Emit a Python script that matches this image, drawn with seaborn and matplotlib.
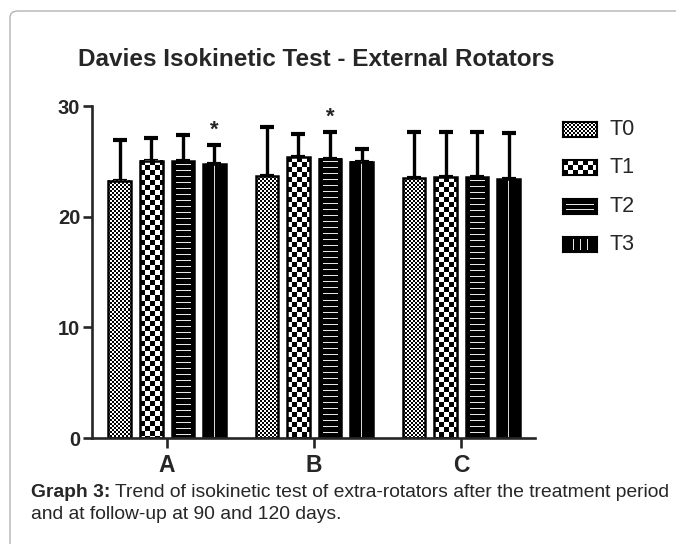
import numpy as np
import pandas as pd
import matplotlib
matplotlib.use("Agg")
import matplotlib.pyplot as plt
import seaborn as sns
from matplotlib.patches import FancyBboxPatch

# === DATA ===
groups = ["A", "B", "C"]
times = ["T0", "T1", "T2", "T3"]
t0_mean = [23.25, 23.67, 23.46]
t1_mean = [25.05, 25.36, 23.55]
t2_mean = [25.00, 25.23, 23.55]
t3_mean = [24.75, 24.96, 23.37]
t0_sd = [3.65, 4.40, 4.21]
t1_sd = [2.02, 2.14, 4.12]
t2_sd = [2.37, 2.44, 4.12]
t3_sd = [1.72, 1.12, 4.23]
y_ticks = [0, 10, 20, 30]
stars = [("A", "T3"), ("B", "T2")]

title = "Davies Isokinetic Test - External Rotators"
caption_bold = "Graph 3:"
caption_1 = " Trend of isokinetic test of extra-rotators after the treatment period"
caption_2 = "and at follow-up at 90 and 120 days."

means = [t0_mean, t1_mean, t2_mean, t3_mean]
sds = [t0_sd, t1_sd, t2_sd, t3_sd]
df = pd.DataFrame({
    "group": [g for _ in times for g in groups],
    "time": [t for t in times for _ in groups],
    "value": [v for m in means for v in m],
})

W, H = 676, 544
FONT = ["Liberation Sans", "DejaVu Sans"]

sns.set_theme(style="ticks")
plt.rcParams["font.family"] = FONT


def texture(kind, w, h, legend=False):
    # 1 = white, 0 = black, drawn at one array cell per output pixel
    i, j = np.mgrid[0:h, 0:w]
    if kind == "T0":
        return ((i // 2 + j // 2) % 2).astype(float)
    if kind == "T1":
        return ((i // 5 + j // 5) % 2).astype(float)
    img = np.zeros((h, w))
    if kind == "T2":
        if legend:
            for r in (h // 3, 2 * h // 3):
                img[r, 3:w - 3] = 0.9
        else:
            img[(i % 6 == 3) & (j >= 4) & (j < w - 4)] = 0.9
    else:
        if legend:
            for c in (w // 2 - 7, w // 2, w // 2 + 7):
                img[2:h - 2, c] = 0.9
        else:
            img[:, w // 2] = 0.85
    return img


fig = plt.figure(figsize=(W / 100, H / 100), dpi=100)
ax = fig.add_axes([92 / W, 1 - 438 / H, (535 - 92) / W, (438 - 106) / H])

sns.barplot(data=df, x="group", y="value", hue="time", order=groups,
            hue_order=times, width=0.857, gap=0.285, errorbar=None,
            legend=False, ax=ax)
ax.set_xlim(-0.51, 2.5)
ax.set_ylim(0, 30)
fig.canvas.draw()

# textured bars + upper error bars
bar_conts = list(ax.containers)
for k, cont in enumerate(bar_conts):
    xs, tops = [], []
    for rect in cont.patches:
        x0, w_d, h_d = rect.get_x(), rect.get_width(), rect.get_height()
        bb = rect.get_window_extent()
        img = texture(times[k], max(int(round(bb.width)), 1), max(int(round(bb.height)), 1))
        ax.imshow(img, cmap="gray", vmin=0, vmax=1, extent=[x0, x0 + w_d, 0, h_d],
                  aspect="auto", interpolation="nearest", zorder=1.5)
        rect.set_facecolor("none")
        rect.set_edgecolor("black")
        rect.set_linewidth(1.8)
        rect.set_zorder(2)
        xs.append(x0 + w_d / 2)
        tops.append(h_d)
    ax.errorbar(xs, tops, yerr=[np.zeros(len(xs)), sds[k]], fmt="none",
                ecolor="black", elinewidth=2.4, capsize=5, capthick=3, zorder=1.4)
    for g, t in stars:
        if t == times[k]:
            gi = groups.index(g)
            ax.text(xs[gi], tops[gi] + sds[k][gi] + 0.8, "*", ha="center", va="baseline",
                    fontsize=16, fontweight="bold")

ax.set_xlim(-0.51, 2.5)
ax.set_ylim(0, 30)
ax.set_yticks(y_ticks)
ax.set_xlabel("")
ax.set_ylabel("")
sns.despine(ax=ax)
for s in ("left", "bottom"):
    ax.spines[s].set_linewidth(1.9)
ax.tick_params(axis="y", length=6.5, width=1.9, pad=2, labelsize=14.5)
ax.tick_params(axis="x", length=7, width=1.9, pad=4.5, labelsize=16.5)
for lab in ax.get_xticklabels() + ax.get_yticklabels():
    lab.set_fontweight("bold")

# legend swatches
for k, t in enumerate(times):
    top = 122 + k * 38.3
    sax = fig.add_axes([563 / W, 1 - (top + 15) / H, 34 / W, 15 / H])
    sax.imshow(texture(t, 34, 15, legend=True), cmap="gray", vmin=0, vmax=1,
               aspect="auto", interpolation="nearest")
    sax.set_xticks([])
    sax.set_yticks([])
    for sp in sax.spines.values():
        sp.set_linewidth(1.5)
        sp.set_color("black")
    fig.text(609 / W, 1 - (top + 7.5) / H, t, ha="left", va="center", fontsize=15.5)

# title
fig.text(78 / W, 1 - 66 / H, title, ha="left", va="baseline",
         fontsize=17.5, fontweight="bold")

# caption
r = fig.canvas.get_renderer()
cb = fig.text(31 / W, 1 - 497 / H, caption_bold, ha="left", va="baseline",
              fontsize=13.9, fontweight="bold")
bw = cb.get_window_extent(r).width
fig.text((31 + bw) / W, 1 - 497 / H, caption_1, ha="left", va="baseline", fontsize=13.9)
fig.text(31 / W, 1 - 519 / H, caption_2, ha="left", va="baseline", fontsize=13.9)

# panel border
fig.patches.append(FancyBboxPatch((10 / W, -0.2), 1.2, 1 - 11 / H + 0.2,
                                  boxstyle="round,pad=0,rounding_size=0.012",
                                  transform=fig.transFigure, facecolor="none",
                                  edgecolor="#b4b4b4", linewidth=1.0))

fig.savefig("out.png", dpi=100)
